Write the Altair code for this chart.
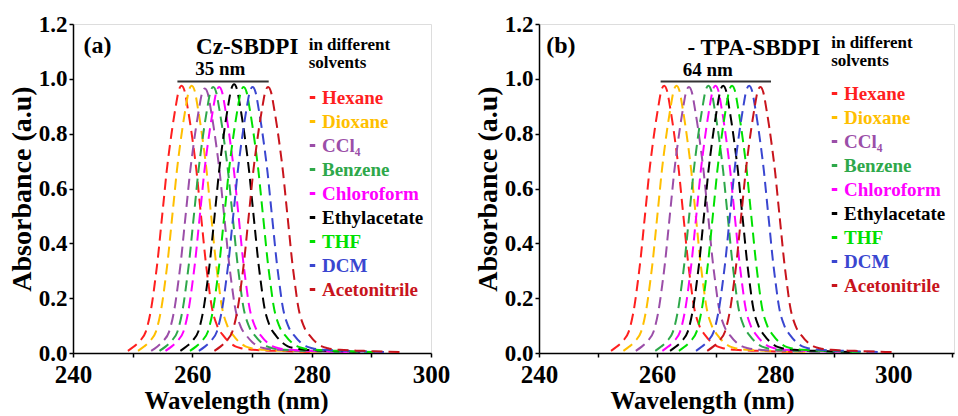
import altair as alt
import pandas as pd

# ---------------- data ----------------
solvents = ["Hexane", "Dioxane", "CCl₄", "Benzene", "Chloroform",
            "Ethylacetate", "THF", "DCM", "Acetonitrile"]
colors = ["#ff1f1f", "#ffbf00", "#9b4ea8", "#2ea84a", "#ff00ff",
          "#000000", "#00e000", "#3a46d0", "#c8141c"]

# peak wavelength (nm) and peak absorbance of each solvent curve
peaks_a = [258.2, 259.9, 262.1, 263.5, 264.5, 267.0, 268.6, 270.1, 272.7]
heights_a = [0.975, 0.975, 0.965, 0.97, 0.97, 0.98, 0.97, 0.97, 0.97]
peaks_b = [261.2, 263.3, 265.4, 268.7, 269.9, 271.2, 272.7, 275.6, 277.5]
heights_b = [0.975, 0.975, 0.97, 0.975, 0.975, 0.975, 0.975, 0.975, 0.97]

# band profile: offset from peak (nm), fraction of peak
profile_offset = [-9, -8, -7, -6, -5, -4.5, -4, -3.5, -3, -2.5, -2, -1.5, -1, -0.5, 0,
                  0.5, 1, 1.5, 2, 2.5, 3, 3.5, 4, 4.5, 5, 6, 7, 8, 9, 10, 12, 16, 20, 23]
profile_shape = [0.008, 0.024, 0.045, 0.08, 0.18, 0.26, 0.35, 0.46, 0.57, 0.68, 0.77,
                 0.85, 0.92, 0.98, 1.0, 0.98, 0.92, 0.85, 0.77, 0.68, 0.57, 0.46, 0.35,
                 0.26, 0.18, 0.10, 0.065, 0.04, 0.025, 0.018, 0.012, 0.008, 0.005, 0.003]

x_ticks_a = [240, 250, 260, 270, 280, 290, 300]
x_ticks_b = [240, 250, 260, 270, 280, 290, 300, 310]
y_ticks = [0.0, 0.2, 0.4, 0.6, 0.8, 1.0, 1.2]

# annotations: (text, x nm, y abs)
tag_a = ["(a)", 244.1, 1.12]
compound_a = ["Cz-SBDPI", 269.2, 1.116]
note_a = [["in different", 279.5, 1.122], ["solvents", 279.5, 1.058]]
span_a = ["35 nm", 264.7, 1.035]
bar_a = [257.5, 272.8, 0.99]

tag_b = ["(b)", 243.7, 1.12]
compound_b = ["- TPA-SBDPI", 276.4, 1.112]
note_b = [["in different", 289.5, 1.13], ["solvents", 289.5, 1.066]]
span_b = ["64 nm", 268.6, 1.032]
bar_b = [260.6, 279.3, 0.99]

FONT = "Liberation Serif"


def curves(peaks, heights):
    rows = []
    for s, p, h in zip(solvents, peaks, heights):
        for o, v in zip(profile_offset, profile_shape):
            rows.append({"solvent": s, "wl": p + o, "absorb": h * v})
    return pd.DataFrame(rows)


label_color_expr = " : ".join(
    f"datum.value === '{s}' ? '{c}'" for s, c in zip(solvents, colors)) + " : 'black'"


def text_layer(items, size, align, xs, ys):
    df = pd.DataFrame(items, columns=["t", "x", "y"])
    return alt.Chart(df).mark_text(
        font=FONT, fontWeight="bold", fontSize=size, align=align,
        baseline="middle", color="black"
    ).encode(x=alt.X("x:Q", scale=xs), y=alt.Y("y:Q", scale=ys), text="t:N")


axis_style = dict(labelFont=FONT, titleFont=FONT, labelFontWeight="bold",
                  titleFontWeight="bold", labelColor="black", titleColor="black",
                  domainColor="black", tickColor="black", domainWidth=1.5,
                  tickWidth=1.5, grid=False, labelFlush=False)


def panel(df, xmax, xticks, width, height, tag, compound, note, span, bar, lx, ly):
    xs = alt.Scale(domain=[240, xmax], nice=False, zero=False)
    ys = alt.Scale(domain=[0, 1.2], nice=False)
    lines = alt.Chart(df).mark_line(
        strokeDash=[11, 6], strokeWidth=2, interpolate="monotone", clip=True
    ).encode(
        x=alt.X("wl:Q", scale=xs, title="Wavelength (nm)",
                axis=alt.Axis(values=xticks,
                              labelExpr="datum.value % 20 == 0 ? datum.label : ''",
                              tickSize=4, labelPadding=5, labelFontSize=25,
                              titleFontSize=25, titlePadding=1, titleX=163,
                              **axis_style)),
        y=alt.Y("absorb:Q", scale=ys, title="Absorbance (a.u)",
                axis=alt.Axis(values=y_ticks, format=".1f", tickSize=4,
                              labelPadding=2, labelFontSize=23, titleFontSize=28,
                              titlePadding=2, **axis_style)),
        color=alt.Color("solvent:N", sort=solvents,
                        scale=alt.Scale(domain=solvents, range=colors),
                        legend=alt.Legend(title=None, orient="none", legendX=lx, legendY=ly,
                                          padding=0,
                                          labelFont=FONT, labelFontWeight="bold",
                                          labelFontSize=19,
                                          labelColor=alt.ExprRef(label_color_expr),
                                          symbolType="stroke", symbolSize=30,
                                          symbolStrokeWidth=3, rowPadding=4,
                                          labelOffset=0)),
    )
    bar_df = pd.DataFrame([bar], columns=["x1", "x2", "y"])
    rule = alt.Chart(bar_df).mark_rule(color="#333333", strokeWidth=2).encode(
        x=alt.X("x1:Q", scale=xs), x2="x2:Q", y=alt.Y("y:Q", scale=ys))
    layers = [
        lines, rule,
        text_layer([tag], 24, "center", xs, ys),
        text_layer([compound], 23, "center", xs, ys),
        text_layer(note, 17, "left", xs, ys),
        text_layer([span], 19, "center", xs, ys),
    ]
    return alt.layer(*layers).properties(width=width, height=height)


pa = panel(curves(peaks_a, heights_a), 300, x_ticks_a, 358, 329,
           tag_a, compound_a, note_a, span_a, bar_a, 230, 64)
pb = panel(curves(peaks_b, heights_b), 310.3, x_ticks_b, 415, 329,
           tag_b, compound_b, note_b, span_b, bar_b, 286, 60)

chart = alt.hconcat(pa, pb, spacing=22).resolve_scale(
    color="independent", x="independent", y="independent"
).properties(
    padding={"left": 7, "top": 12, "right": 0, "bottom": 0}
).configure_view(
    stroke="black", strokeWidth=1.5
).configure(background="white", font=FONT)

chart.save("out.html", embed_options={"renderer": "svg", "actions": False})
